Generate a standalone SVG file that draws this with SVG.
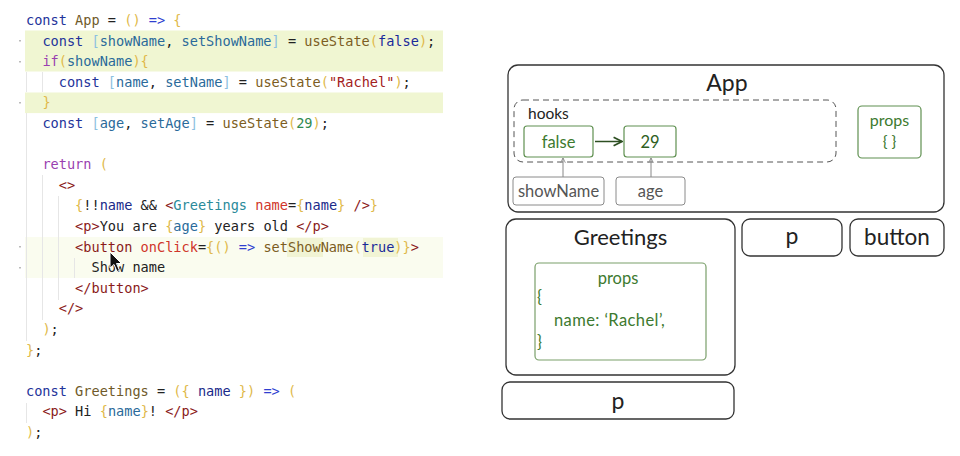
<svg xmlns="http://www.w3.org/2000/svg" width="960" height="456" viewBox="0 0 960 456">
<defs>
<style>
.code{font-family:"DejaVu Sans Mono",monospace;font-size:13.6px;fill:#222;white-space:pre}
.kw{fill:#23339a}.fn{fill:#6f5a2a}.g{fill:#e0b94a}.ar{fill:#2f3fd0}.v{fill:#2a6a9a}.lb{fill:#8cc0e0}
.us{fill:#7c5d22}.b{fill:#1a2a9a}.ct{fill:#9a3fb0}.s{fill:#a32020}.n{fill:#2f8a4f}.t{fill:#8a1a1a}
.cp{fill:#2a8a9a}.at{fill:#d0352a}.nv{fill:#1a2a8a}
.box{fill:#fff;stroke:#333;stroke-width:1.3}
.gbox{fill:#fff;stroke:#5f9050;stroke-width:1.2}
.gybox{fill:#fff;stroke:#8a8a8a;stroke-width:1}
.lbl{font-family:Lato,"Noto Sans",sans-serif;fill:#222;text-anchor:middle}
.gt{font-family:Lato,"Noto Sans",sans-serif;fill:#3d7a2f}
.guide{stroke:#e6e6e6;stroke-width:1}
</style>
<marker id="ga" viewBox="0 0 10 10" refX="9" refY="5" markerWidth="7" markerHeight="7" orient="auto"><path d="M1,1 L9,5 L1,9" fill="none" stroke="#2d4f22" stroke-width="1.6"/></marker>
<marker id="ua" viewBox="0 0 10 10" refX="9" refY="5" markerWidth="6" markerHeight="6" orient="auto"><path d="M1,1 L9,5 L1,9" fill="none" stroke="#888" stroke-width="1.4"/></marker>
</defs>
<rect width="960" height="456" fill="#fff"/>
<g id="editor">
<rect x="25" y="30.5" width="418" height="41" fill="#f0f6d2"/>
<rect x="25" y="92.5" width="418" height="20.6" fill="#f0f6d2"/>
<rect x="25" y="237" width="418" height="41" fill="#fafcef"/>
<rect x="287" y="238" width="36" height="19" fill="#f1f4d4"/>
<rect x="363" y="238" width="35" height="19" fill="#f1f4d4"/>
<line class="guide" x1="26.5" y1="72" x2="26.5" y2="92"/>
<line class="guide" x1="26.5" y1="113" x2="26.5" y2="341"/>
<line class="guide" x1="42.5" y1="72" x2="42.5" y2="92"/>
<line class="guide" x1="42.5" y1="175" x2="42.5" y2="320"/>
<line class="guide" x1="58.5" y1="196" x2="58.5" y2="300"/>
<line class="guide" x1="74.5" y1="258" x2="74.5" y2="278"/>
<line class="guide" x1="26.5" y1="403" x2="26.5" y2="423"/>
<g fill="#bbb"><rect x="19" y="40" width="2" height="1.5"/><rect x="19" y="61" width="2" height="1.5"/><rect x="19" y="102" width="2" height="1.5"/><rect x="19" y="246" width="2" height="1.5"/><rect x="19" y="267" width="2" height="1.5"/></g>
<text class="code" xml:space="preserve">
<tspan x="26" y="25"><tspan class="kw">const</tspan> <tspan class="fn">App</tspan> = <tspan class="g">()</tspan> <tspan class="ar">=&gt;</tspan> <tspan class="g">{</tspan></tspan>
<tspan x="26" y="45.6">  <tspan class="kw">const</tspan> <tspan class="lb">[</tspan><tspan class="v">showName</tspan>, <tspan class="v">setShowName</tspan><tspan class="lb">]</tspan> = <tspan class="us">useState</tspan><tspan class="g">(</tspan><tspan class="b">false</tspan><tspan class="g">)</tspan>;</tspan>
<tspan x="26" y="66.2">  <tspan class="ct">if</tspan><tspan class="g">(</tspan><tspan class="v">showName</tspan><tspan class="g">){</tspan></tspan>
<tspan x="26" y="86.8">    <tspan class="kw">const</tspan> <tspan class="lb">[</tspan><tspan class="v">name</tspan>, <tspan class="v">setName</tspan><tspan class="lb">]</tspan> = <tspan class="us">useState</tspan><tspan class="g">(</tspan><tspan class="s">"Rachel"</tspan><tspan class="g">)</tspan>;</tspan>
<tspan x="26" y="107.4">  <tspan class="g">}</tspan></tspan>
<tspan x="26" y="128">  <tspan class="kw">const</tspan> <tspan class="lb">[</tspan><tspan class="v">age</tspan>, <tspan class="v">setAge</tspan><tspan class="lb">]</tspan> = <tspan class="us">useState</tspan><tspan class="g">(</tspan><tspan class="n">29</tspan><tspan class="g">)</tspan>;</tspan>
<tspan x="26" y="169.2">  <tspan class="ct">return</tspan> <tspan class="g">(</tspan></tspan>
<tspan x="26" y="189.8">    <tspan class="t">&lt;&gt;</tspan></tspan>
<tspan x="26" y="210.4">      <tspan class="g">{</tspan>!!<tspan class="nv">name</tspan> &amp;&amp; <tspan class="t">&lt;</tspan><tspan class="cp">Greetings</tspan> <tspan class="at">name</tspan>=<tspan class="g">{</tspan><tspan class="nv">name</tspan><tspan class="g">}</tspan> <tspan class="t">/&gt;</tspan><tspan class="g">}</tspan></tspan>
<tspan x="26" y="231">      <tspan class="t">&lt;p&gt;</tspan>You are <tspan class="g">{</tspan><tspan class="v">age</tspan><tspan class="g">}</tspan> years old <tspan class="t">&lt;/p&gt;</tspan></tspan>
<tspan x="26" y="251.6">      <tspan class="t">&lt;button</tspan> <tspan class="at">onClick</tspan>=<tspan class="g">{()</tspan> <tspan class="ar">=&gt;</tspan> <tspan class="us">setShowName</tspan><tspan class="g">(</tspan><tspan class="b">true</tspan><tspan class="g">)}</tspan><tspan class="t">&gt;</tspan></tspan>
<tspan x="26" y="272.2">        Show name</tspan>
<tspan x="26" y="292.8">      <tspan class="t">&lt;/button&gt;</tspan></tspan>
<tspan x="26" y="313.4">    <tspan class="t">&lt;/&gt;</tspan></tspan>
<tspan x="26" y="334">  <tspan class="g">)</tspan>;</tspan>
<tspan x="26" y="354.6"><tspan class="g">}</tspan>;</tspan>
<tspan x="26" y="395.8"><tspan class="kw">const</tspan> <tspan class="fn">Greetings</tspan> = <tspan class="g">({</tspan> <tspan class="nv">name</tspan> <tspan class="g">})</tspan> <tspan class="ar">=&gt;</tspan> <tspan class="g">(</tspan></tspan>
<tspan x="26" y="416.4">  <tspan class="t">&lt;p&gt;</tspan> Hi <tspan class="g">{</tspan><tspan class="v">name</tspan><tspan class="g">}</tspan>! <tspan class="t">&lt;/p&gt;</tspan></tspan>
<tspan x="26" y="437"><tspan class="g">)</tspan>;</tspan>
</text>
<polygon points="110,252 110,268 114,264.5 117,271.5 119.5,270.5 116.5,263.5 121.5,263.5" fill="#111" stroke="#fff" stroke-width="1"/>
</g>
<g id="App">
<rect class="box" x="508" y="65" width="436" height="147" rx="10"/>
<text class="lbl" x="727" y="91" font-size="23">App</text>
</g>
<g id="hooks">
<rect x="514" y="100" width="322" height="62" rx="9" fill="none" stroke="#555" stroke-width="1" stroke-dasharray="6,4"/>
<text x="528" y="119" font-family="Lato,'Noto Sans',sans-serif" font-size="15.5" fill="#222">hooks</text>
</g>
<g id="hook-false">
<rect class="gbox" x="524" y="126" width="69" height="31" rx="3"/>
<text class="gt" x="558.5" y="147.5" font-size="16.5" text-anchor="middle">false</text>
</g>
<g id="hook-29">
<rect class="gbox" x="624" y="126" width="52" height="31" rx="3"/>
<text x="650" y="147.5" font-family="Lato,'Noto Sans',sans-serif" font-size="16.5" fill="#2e5e22" text-anchor="middle">29</text>
</g>
<g id="app-props">
<rect class="gbox" x="858" y="106" width="63" height="52" rx="4"/>
<text class="gt" x="889.5" y="126" font-size="16" text-anchor="middle">props</text>
<text class="gt" x="889.5" y="147" font-size="16" text-anchor="middle">{ }</text>
</g>
<g id="showName">
<rect class="gybox" x="513" y="177" width="91" height="28" rx="3"/>
<text x="558.5" y="197" font-family="Lato,'Noto Sans',sans-serif" font-size="16.5" fill="#555" text-anchor="middle">showName</text>
</g>
<g id="age">
<rect class="gybox" x="616" y="177" width="69" height="28" rx="3"/>
<text x="650.5" y="197" font-family="Lato,'Noto Sans',sans-serif" font-size="16.5" fill="#555" text-anchor="middle">age</text>
</g>
<g id="Greetings">
<rect class="box" x="506" y="219" width="229" height="156" rx="10"/>
<text class="lbl" x="620.5" y="245" font-size="22">Greetings</text>
</g>
<g id="greetings-props">
<rect x="535" y="263" width="171" height="97" rx="4" fill="#fff" stroke="#7a9f6a" stroke-width="1.2"/>
<text class="gt" x="618" y="284" font-size="16.5" text-anchor="middle">props</text>
<text class="gt" x="537" y="303" font-size="16.5">{</text>
<text class="gt" x="554" y="326" font-size="16.5" letter-spacing="0.4">name: ‘Rachel’,</text>
<text class="gt" x="537" y="348" font-size="16.5">}</text>
</g>
<g id="p-app">
<rect class="box" x="742" y="219" width="100" height="37" rx="8"/>
<text class="lbl" x="792" y="244" font-size="23">p</text>
</g>
<g id="button">
<rect class="box" x="850" y="219" width="94" height="37" rx="8"/>
<text class="lbl" x="897" y="245" font-size="22.5">button</text>
</g>
<g id="p-greetings">
<rect class="box" x="502" y="382" width="232" height="37" rx="8"/>
<text class="lbl" x="618" y="409" font-size="23">p</text>
</g>
<g id="connectors">
<line x1="595" y1="141.5" x2="622" y2="141.5" stroke="#2d4f22" stroke-width="1.5" marker-end="url(#ga)"/>
<line x1="563" y1="177" x2="563" y2="158" stroke="#888" stroke-width="1" marker-end="url(#ua)"/>
<line x1="651" y1="177" x2="651" y2="158" stroke="#888" stroke-width="1" marker-end="url(#ua)"/>
</g>
</svg>
